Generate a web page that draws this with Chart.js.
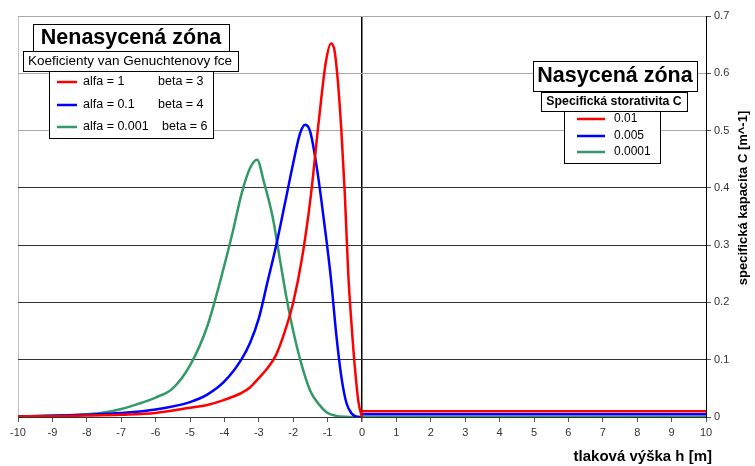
<!DOCTYPE html>
<html>
<head>
<meta charset="utf-8">
<script src="https://cdn.jsdelivr.net/npm/chart.js@4"></script>
<style>
  html, body { margin: 0; padding: 0; background: #fff; }
  #wrap { width: 755px; height: 466px; position: relative; }
</style>
</head>
<body>
<div id="wrap"><canvas id="chart"></canvas></div>
<script>
// tlaková výška h [m] -> specifická kapacita C [m^-1]
const redH = [-10, -9, -8, -7, -6, -5, -4.5, -4, -3.5, -3.25, -3, -2.75, -2.5, -2.25, -2, -1.75, -1.5, -1.25, -1.05, -0.9, -0.8, -0.7, -0.6, -0.5, -0.4, -0.3, -0.2, -0.1, 0];
const redC = [0.001, 0.0015, 0.0025, 0.004, 0.007, 0.016, 0.021, 0.03, 0.042, 0.052, 0.068, 0.085, 0.108, 0.148, 0.2, 0.275, 0.38, 0.52, 0.62, 0.652, 0.64, 0.585, 0.50, 0.39, 0.25, 0.158, 0.082, 0.025, 0];

const blueH = [-10, -9, -8, -7, -6, -5, -4.5, -4, -3.5, -3.25, -3, -2.75, -2.5, -2.25, -2, -1.8, -1.65, -1.5, -1.3, -1.1, -0.9, -0.75, -0.6, -0.45, -0.3, -0.15, 0];
const blueC = [0.001, 0.002, 0.004, 0.007, 0.013, 0.026, 0.039, 0.062, 0.101, 0.13, 0.172, 0.235, 0.298, 0.37, 0.443, 0.495, 0.51, 0.497, 0.43, 0.34, 0.24, 0.145, 0.07, 0.024, 0.006, 0.0005, 0];

const greenH = [-10, -9, -8, -7.5, -7, -6.5, -6, -5.5, -5, -4.5, -4, -3.75, -3.5, -3.25, -3.05, -2.85, -2.6, -2.4, -2.2, -2, -1.75, -1.5, -1.25, -1, -0.75, -0.5, 0];
const greenC = [0.001, 0.0025, 0.005, 0.008, 0.014, 0.023, 0.034, 0.05, 0.09, 0.158, 0.265, 0.325, 0.39, 0.435, 0.449, 0.41, 0.35, 0.28, 0.21, 0.15, 0.09, 0.045, 0.022, 0.007, 0.002, 0.0005, 0];

// saturated zone: constant storativity from h = 0 to h = 10
const satH = [0, 10];
const satC = [0.01, 0.005, 0.0001];

const alfaLabels = ['alfa = 1', 'alfa = 0.1', 'alfa = 0.001'];
const betaLabels = ['beta = 3', 'beta = 4', 'beta = 6'];
const satLabels = ['0.01', '0.005', '0.0001'];
const colors = ['#ff0000', '#0000ff', '#339966'];

const FONT = '"Liberation Sans", Arial, sans-serif';

function pts(hs, cs) {
  return hs.map((h, i) => ({ x: h, y: cs[i] }));
}

function line(label, data, color) {
  return {
    label: label,
    data: data,
    borderColor: color,
    backgroundColor: color,
    borderWidth: 2.5,
    pointRadius: 0,
    fill: false,
    cubicInterpolationMode: 'monotone',
  };
}

const datasets = [
  line(alfaLabels[0], pts(redH, redC), colors[0]),
  line(alfaLabels[1], pts(blueH, blueC), colors[1]),
  line(alfaLabels[2], pts(greenH, greenC), colors[2]),
];
satC.forEach((c, i) => {
  datasets.push(line(satLabels[i], satH.map(h => ({ x: h, y: c })), colors[i]));
});

function box(ctx, x, y, w, h) {
  ctx.fillStyle = '#fff';
  ctx.fillRect(x, y, w, h);
  ctx.strokeStyle = '#000';
  ctx.lineWidth = 1;
  ctx.strokeRect(x + 0.5, y + 0.5, w, h);
}

function sample(ctx, x1, x2, y, color) {
  ctx.strokeStyle = color;
  ctx.lineWidth = 2.5;
  ctx.beginPath();
  ctx.moveTo(x1, y);
  ctx.lineTo(x2, y);
  ctx.stroke();
}

const annotations = {
  id: 'annotations',
  afterDraw(chart) {
    const ctx = chart.ctx;
    ctx.save();
    ctx.textBaseline = 'middle';

    // unsaturated zone
    box(ctx, 33, 24, 196, 27);
    ctx.fillStyle = '#000';
    ctx.textAlign = 'center';
    ctx.font = 'bold 21.5px ' + FONT;
    ctx.fillText('Nenasycená zóna', 131, 38);

    box(ctx, 49, 71, 164, 67);
    box(ctx, 23, 51, 215, 20);
    ctx.fillStyle = '#000';
    ctx.font = '13.5px ' + FONT;
    ctx.fillText('Koeficienty van Genuchtenovy fce', 130, 61);

    const ys = [82, 105, 127];
    const betaX = [158, 158, 162];
    ctx.textAlign = 'left';
    for (let i = 0; i < 3; i++) {
      sample(ctx, 57, 77, ys[i], colors[i]);
      ctx.fillStyle = '#000';
      ctx.font = '12.5px ' + FONT;
      ctx.fillText(alfaLabels[i], 83, ys[i]);
      ctx.fillText(betaLabels[i], betaX[i], ys[i]);
    }

    // saturated zone
    box(ctx, 533, 61, 164, 30);
    ctx.fillStyle = '#000';
    ctx.textAlign = 'center';
    ctx.font = 'bold 21.5px ' + FONT;
    ctx.fillText('Nasycená zóna', 615, 76);

    box(ctx, 564, 111, 96, 52);
    box(ctx, 541, 92, 146, 19);
    ctx.fillStyle = '#000';
    ctx.font = 'bold 12.3px ' + FONT;
    ctx.fillText('Specifická storativita C', 614, 102);

    const sy = [119, 136, 152];
    ctx.textAlign = 'left';
    for (let i = 0; i < 3; i++) {
      sample(ctx, 577, 605, sy[i], colors[i]);
      ctx.fillStyle = '#000';
      ctx.font = '12px ' + FONT;
      ctx.fillText(satLabels[i], 614, sy[i]);
    }

    // axis titles
    ctx.fillStyle = '#000';
    ctx.font = 'bold 15px ' + FONT;
    ctx.textAlign = 'right';
    ctx.fillText('tlaková výška h [m]', 712, 457);

    ctx.save();
    ctx.translate(743, 198);
    ctx.rotate(-Math.PI / 2);
    ctx.textAlign = 'center';
    ctx.font = 'bold 13px ' + FONT;
    ctx.fillText('specifická kapacita C [m^-1]', 0, 0);
    ctx.restore();

    ctx.restore();
  }
};

new Chart(document.getElementById('chart'), {
  type: 'line',
  data: { datasets: datasets },
  options: {
    responsive: true,
    maintainAspectRatio: false,
    animation: false,
    layout: { padding: { left: 18, top: 16, right: 0, bottom: 0 } },
    plugins: {
      legend: { display: false },
      tooltip: { enabled: false },
    },
    scales: {
      x: {
        type: 'linear',
        min: -10,
        max: 10,
        ticks: {
          stepSize: 1,
          color: '#333',
          font: { family: FONT, size: 11 },
          padding: 4,
          maxRotation: 0,
        },
        grid: {
          color: c => c.tick && c.tick.value === 0 ? '#000' : (c.tick && c.tick.value === -10 ? '#c0c0c0' : 'transparent'),
          lineWidth: c => c.tick && c.tick.value === 0 ? 1.5 : 1,
          tickColor: '#555',
          tickLength: 5,
        },
        border: { display: true, color: '#333' },
        afterFit: s => { s.height = 49; },
      },
      y: {
        type: 'linear',
        position: 'right',
        min: 0,
        max: 0.7,
        ticks: {
          stepSize: 0.1,
          color: '#333',
          font: { family: FONT, size: 11 },
          padding: 3,
        },
        grid: {
          color: c => c.tick && c.tick.value >= 0.45 ? '#a8a8a8' : '#333',
          tickColor: '#555',
          tickLength: 5,
        },
        border: { display: true, color: '#000' },
        afterFit: s => { s.width = 49; },
      },
    },
  },
  plugins: [annotations],
});
</script>
</body>
</html>
